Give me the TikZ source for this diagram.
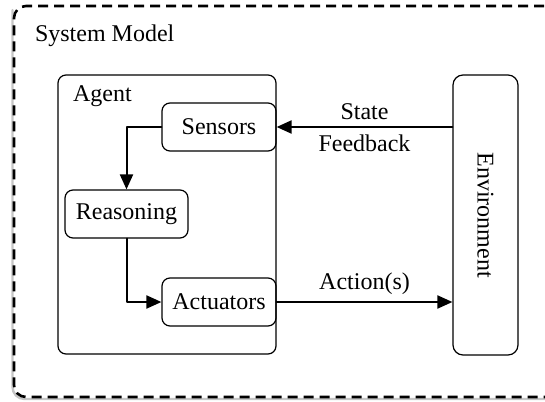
\documentclass[tikz,border=0pt]{standalone}
\usepackage{fontspec}
\setmainfont{Liberation Serif}
\usetikzlibrary{arrows.meta}
\usetikzlibrary{positioning}

\begin{document}
\begin{tikzpicture}[line cap=round,line join=round,x=0.5pt,y=-0.5pt,
  block/.style={draw,rounded corners=4pt,line width=0.6pt,minimum width=57pt,minimum height=24pt,inner sep=0pt,font=\fontsize{12}{14}\selectfont},
  link/.style={line width=1pt,-{Triangle[length=7.5pt,width=6.5pt]}},
  lbl/.style={font=\fontsize{12}{14}\selectfont}]
\useasboundingbox (0,0) rectangle (545,401);
\clip (0,0) rectangle (545,401);
% system model frame, runs off the right edge
\draw[gray!45,line width=1.2pt,rounded corners=6pt] (12.5,10) -- (12.5,399) -- (560,399);
\draw[line width=1.3pt,dash pattern=on 5pt off 3pt,line cap=butt,rounded corners=6pt] (560,6) -- (14,6) -- (14,397) -- (560,397);
\node[lbl,anchor=west] (sysname) at (28,36) {System Model};
% agent
\node[draw,rounded corners=4pt,line width=0.6pt,minimum width=109pt,minimum height=139.5pt] (agent) at (167,214.5) {};
\node[lbl,anchor=west] (agentname) at (66,96) {Agent};
\node[block] (sensors) at (219,127) {Sensors};
\node[block,minimum width=61.5pt] (reasoning) at (126.5,214) {Reasoning};
\node[block] (actuators) at (219,302) {Actuators};
% environment
\node[block,rounded corners=5pt,minimum width=32.5pt,minimum height=140pt] (env) at (485.5,215) {\rotatebox{-90}{Environment}};
% loop
\draw[link] (env.west |- sensors.east) -- node[lbl,above]{State} node[lbl,below]{Feedback} (sensors.east);
\draw[link] (sensors.west) -| (reasoning.north);
\draw[link] (reasoning.south) |- (actuators.west);
\draw[link] (actuators.east) -- node[lbl,above]{Action(s)} (env.west |- actuators.east);
\end{tikzpicture}
\end{document}
